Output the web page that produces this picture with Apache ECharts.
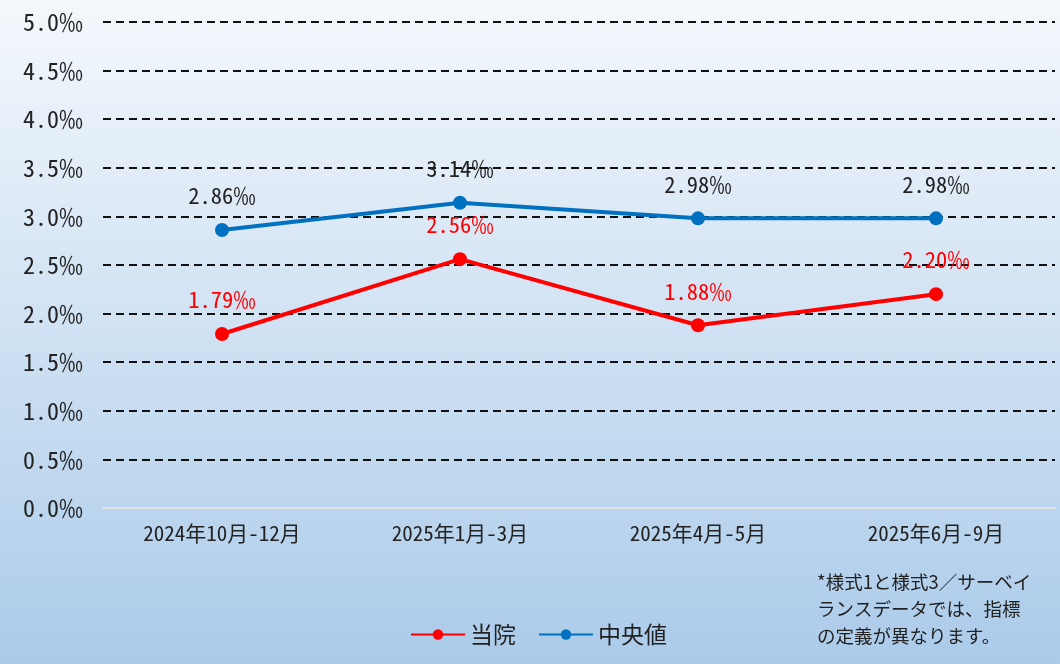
<!DOCTYPE html>
<html>
<head>
<meta charset="utf-8">
<script src="https://cdn.jsdelivr.net/npm/echarts@6/dist/echarts.min.js"></script>
<style>
  html, body { margin: 0; padding: 0; }
  #main { width: 1060px; height: 664px; }
</style>
</head>
<body>
<div id="main"></div>
<script>
// 期間
var periods = ['2024年10月-12月', '2025年1月-3月', '2025年4月-5月', '2025年6月-9月']
// 当院
var hospital = [1.79, 2.56, 1.88, 2.20]
// 中央値
var median = [2.86, 3.14, 2.98, 2.98]
var noteLines = ['*様式1と様式3／サーベイ', 'ランスデータでは、指標', 'の定義が異なります。']

var monoFont = '"Noto Sans Mono CJK JP", "DejaVu Sans Mono", monospace'
var jpFont = '"Noto Sans CJK JP", sans-serif'

function permil(v) {
  return v.toFixed(2) + '‰'
}

var chart = echarts.init(document.getElementById('main'))
var option = {
  backgroundColor: {
    type: 'linear', x: 0, y: 0, x2: 0, y2: 1,
    colorStops: [
      { offset: 0, color: '#f4f8fc' },
      { offset: 1, color: '#abcbea' }
    ]
  },
  animation: false,
  grid: { left: 103, right: 5, top: 22, bottom: 156 },
  legend: {
    data: ['当院', '中央値'],
    left: 405,
    top: 618,
    itemWidth: 54,
    itemHeight: 13,
    itemGap: 22,
    textStyle: { fontSize: 23, color: '#222', fontFamily: jpFont }
  },
  xAxis: {
    type: 'category',
    data: periods,
    axisLine: { lineStyle: { color: '#e2e2e2', width: 2 } },
    axisTick: { show: false },
    axisLabel: { fontSize: 21, color: '#222', margin: 15, fontFamily: monoFont }
  },
  yAxis: {
    type: 'value',
    min: 0,
    max: 5,
    interval: 0.5,
    axisLine: { show: false },
    axisTick: { show: false },
    axisLabel: {
      fontSize: 24, color: '#222', margin: 20, fontFamily: monoFont,
      formatter: function (v) { return v.toFixed(1) + '‰' }
    },
    splitLine: { lineStyle: { color: '#111', width: 2, type: [8, 5] } }
  },
  series: [
    {
      name: '当院',
      type: 'line',
      data: hospital,
      color: '#ff0000',
      symbol: 'circle',
      symbolSize: 14,
      lineStyle: { width: 4 },
      label: {
        show: true, position: 'top', distance: 16,
        color: '#ff0000', fontSize: 22.5, fontFamily: monoFont,
        formatter: function (p) { return permil(p.value) }
      }
    },
    {
      name: '中央値',
      type: 'line',
      data: median,
      color: '#0070c0',
      symbol: 'circle',
      symbolSize: 14,
      lineStyle: { width: 4 },
      label: {
        show: true, position: 'top', distance: 16,
        color: '#222', fontSize: 22.5, fontFamily: monoFont,
        formatter: function (p) { return permil(p.value) }
      }
    }
  ],
  graphic: [
    {
      type: 'text',
      left: 817,
      top: 568,
      style: {
        text: noteLines.join('\n'),
        fontSize: 18.5,
        lineHeight: 27,
        fill: '#222',
        fontFamily: jpFont
      }
    }
  ]
}
chart.setOption(option)
</script>
</body>
</html>
